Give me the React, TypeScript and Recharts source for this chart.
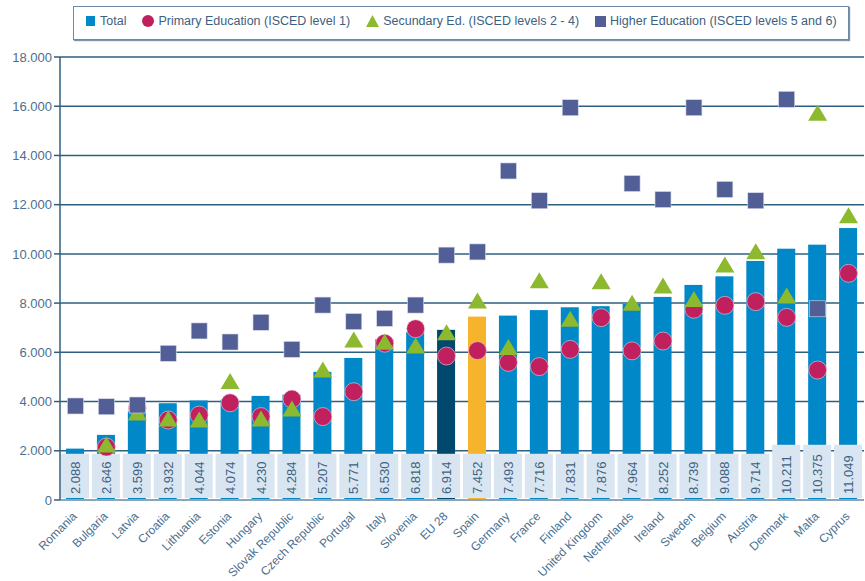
import { Bar, CartesianGrid, Cell, ComposedChart, Scatter, XAxis, YAxis } from "recharts";

const countries = [
  "Romania", "Bulgaria", "Latvia", "Croatia", "Lithuania", "Estonia", "Hungary",
  "Slovak Republic", "Czech Republic", "Portugal", "Italy", "Slovenia", "EU 28", "Spain",
  "Germany", "France", "Finland", "United Kingdom", "Netherlands", "Ireland", "Sweden",
  "Belgium", "Austria", "Denmark", "Malta", "Cyprus",
];
const total = [
  2088, 2646, 3599, 3932, 4044, 4074, 4230, 4284, 5207, 5771, 6530, 6818, 6914, 7452,
  7493, 7716, 7831, 7876, 7964, 8252, 8739, 9088, 9714, 10211, 10375, 11049,
];
const primary = [
  null, 2150, 3740, 3250, 3450, 3950, 3390, 4100, 3390, 4400, 6370, 6960, 5850, 6070,
  5590, 5420, 6120, 7410, 6060, 6460, 7750, 7910, 8060, 7420, 5280, 9210,
];
const secondary = [
  null, 2235, 3530, 3290, 3250, 4810, 3290, 3700, 5280, 6500, 6410, 6260, 6800, 8090,
  6200, 8910, 7340, 8870, 7990, 8700, 8150, 9550, 10090, 8290, 15710, 11550,
];
const higher = [
  3820, 3790, 3860, 5960, 6870, 6420, 7220, 6120, 7920, 7250, 7380, 7920, 9950, 10080,
  13370, 12160, 15940, null, 12860, 12210, 15940, 12620, 12160, 16280, 7770, null,
];
const yTicks = [0, 2000, 4000, 6000, 8000, 10000, 12000, 14000, 16000, 18000];

const data = countries.map((name, i) => ({
  name,
  total: total[i],
  primary: primary[i],
  secondary: secondary[i],
  higher: higher[i],
}));

const BLUE = "#0088c9";
const NAVY = "#00486e";
const ORANGE = "#f6b42c";
const MAGENTA = "#c0215e";
const GREEN = "#8cb92e";
const PURPLE = "#525e96";
const TEXT = "#4a6f8f";
const FONT = "'Liberation Sans', Arial, sans-serif";

const barColor = (name: string) => (name === "EU 28" ? NAVY : name === "Spain" ? ORANGE : BLUE);

// dot thousands separator, "7.452"
const fmt = (v: number) => {
  if (v === 0) return "0";
  const s = String(v);
  return s.slice(0, s.length - 3) + "." + s.slice(-3);
};

function BarWithBox(props: any) {
  const { x, y, width, height, payload, fill } = props;
  const v = payload.total;
  const bottom = y + height;
  const px = height / v;
  const cx = x + width / 2;
  const boxTop = bottom - 2000 * px + 3 - (v >= 10000 ? 9 : 0);
  const boxBottom = bottom - 2;
  return (
    <g>
      <rect x={x} y={y} width={width} height={height} fill={fill} />
      <rect x={cx - 14} y={boxTop} width={28} height={boxBottom - boxTop} fill="#d9e6f1" />
      <text
        x={cx + 5}
        y={boxBottom - 4}
        transform={`rotate(-90 ${cx + 5} ${boxBottom - 4})`}
        fontSize={13}
        fontFamily={FONT}
        fill="#3d6283"
        textAnchor="start"
      >
        {fmt(v)}
      </text>
    </g>
  );
}

const circleShape = (props: any) => {
  if (props.payload?.primary == null) return <g />;
  return <circle cx={props.cx} cy={props.cy} r={9} fill={MAGENTA} stroke="#f0d0dc" strokeWidth={0.6} />;
};
const triangleShape = (props: any) => {
  if (props.payload?.secondary == null) return <g />;
  const { cx, cy } = props;
  return (
    <polygon
      points={`${cx},${cy - 8.5} ${cx - 9.5},${cy + 7.5} ${cx + 9.5},${cy + 7.5}`}
      fill={GREEN}
    />
  );
};
const squareShape = (props: any) => {
  if (props.payload?.higher == null) return <g />;
  return (
    <rect x={props.cx - 8} y={props.cy - 8} width={16} height={16} fill={PURPLE} stroke="#d6d9e8" strokeWidth={0.6} />
  );
};

function CountryTick(props: any) {
  const { x, y, payload } = props;
  const tx = x + 2;
  const ty = y + 9;
  return (
    <text
      x={tx}
      y={ty}
      transform={`rotate(-45 ${tx} ${ty})`}
      textAnchor="end"
      fontSize={12}
      fontFamily={FONT}
      fill={TEXT}
    >
      {payload.value}
    </text>
  );
}

function LegendBox() {
  const item = { display: "flex", alignItems: "center", marginRight: 16 } as const;
  return (
    <div
      style={{
        position: "absolute",
        left: 73,
        top: 6,
        width: 776,
        height: 34,
        border: "1.5px solid #6c8aa6",
        boxShadow: "1px 1px 1px #7d95ab",
        background: "#fff",
        display: "flex",
        alignItems: "center",
        paddingLeft: 12,
        paddingBottom: 4,
        boxSizing: "border-box",
        fontFamily: FONT,
        fontSize: 12.5,
        color: "#3d5f80",
        whiteSpace: "nowrap",
      }}
    >
      <div style={item}>
        <span style={{ width: 9, height: 10, background: BLUE, display: "inline-block", marginRight: 5 }} />
        Total
      </div>
      <div style={item}>
        <span style={{ width: 12, height: 12, borderRadius: 6, background: MAGENTA, display: "inline-block", marginRight: 4 }} />
        Primary Education (ISCED level 1)
      </div>
      <div style={item}>
        <svg width={13} height={12} style={{ marginRight: 4 }}>
          <polygon points="6.5,0 0,12 13,12" fill={GREEN} />
        </svg>
        Secundary Ed. (ISCED levels 2 - 4)
      </div>
      <div style={item}>
        <span style={{ width: 11, height: 11, background: PURPLE, display: "inline-block", marginRight: 4 }} />
        Higher Education (ISCED levels 5 and 6)
      </div>
    </div>
  );
}

export default function App() {
  return (
    <div style={{ position: "absolute", left: 0, top: 0, width: 865, height: 581, background: "#fff" }}>
      <ComposedChart
        width={865}
        height={581}
        data={data}
        margin={{ top: 57, right: 1, left: 0, bottom: 0 }}
        barCategoryGap={0}
      >
        <CartesianGrid vertical={false} stroke="#2f5f80" strokeWidth={1.5} />
        <XAxis
          dataKey="name"
          interval={0}
          height={81}
          tickLine={false}
          axisLine={{ stroke: "#8ba6ba", strokeWidth: 2 }}
          tick={<CountryTick />}
        />
        <YAxis
          domain={[0, 18000]}
          ticks={yTicks}
          width={60}
          tickFormatter={fmt}
          axisLine={{ stroke: "#2f5f80", strokeWidth: 1.5 }}
          tickLine={{ stroke: "#2f5f80", strokeWidth: 1.5 }}
          tickSize={6}
          tick={{ fontSize: 13, fontFamily: FONT, fill: TEXT }}
        />
        <Bar dataKey="total" barSize={18} shape={<BarWithBox />} isAnimationActive={false}>
          {data.map((d) => (
            <Cell key={d.name} fill={barColor(d.name)} />
          ))}
        </Bar>
        <Scatter dataKey="primary" shape={circleShape} isAnimationActive={false} />
        <Scatter dataKey="secondary" shape={triangleShape} isAnimationActive={false} />
        <Scatter dataKey="higher" shape={squareShape} isAnimationActive={false} />
      </ComposedChart>
      <LegendBox />
    </div>
  );
}
